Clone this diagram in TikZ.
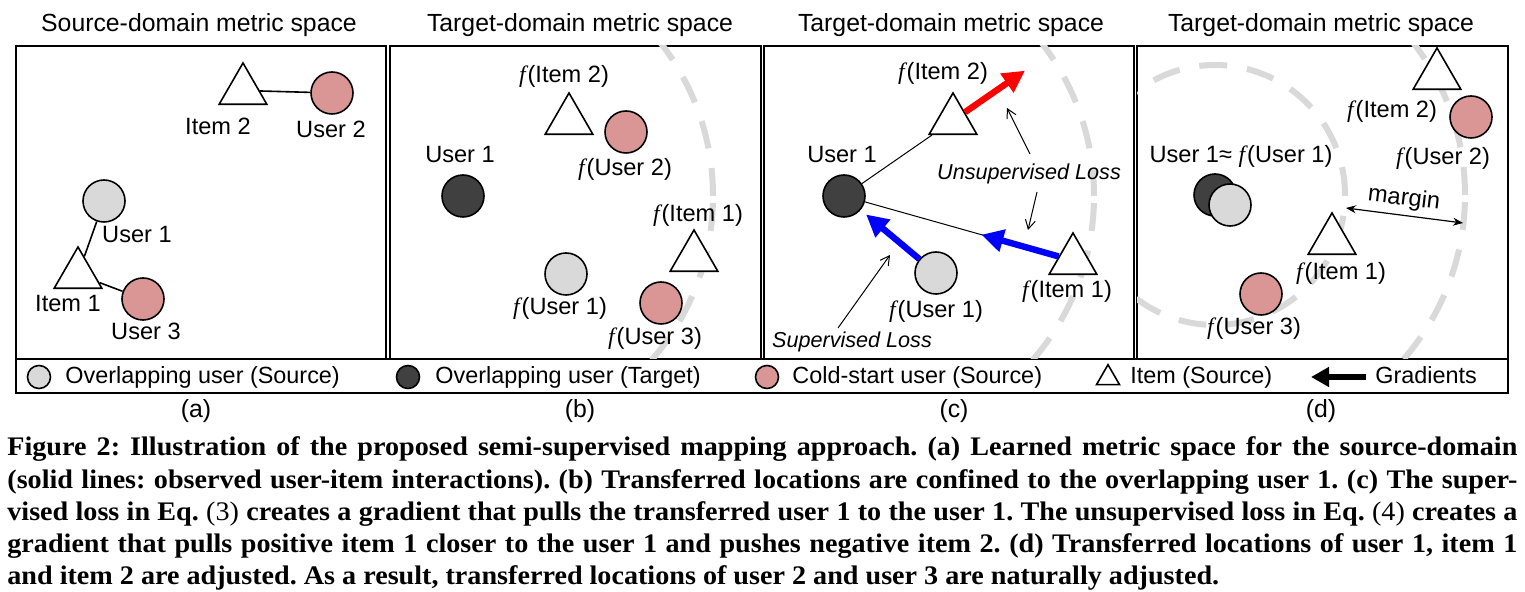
\documentclass[tikz,border=0pt]{standalone}
\usepackage{fontspec}
\setmainfont{Liberation Sans}
\newfontfamily\capfont[FakeStretch=1.05]{Liberation Serif}
\newfontfamily\mapfont{Liberation Serif}
\newcommand{\fmap}{{\mapfont\itshape f}\kern1pt}
\usetikzlibrary{shapes.geometric,arrows.meta,calc}

\begin{document}
\begin{tikzpicture}[x=0.5pt,y=-0.5pt,
  panel/.style={draw=black,line width=0.9pt},
  region/.style={draw=regionColor,line width=3pt,dash pattern=on 14pt off 10pt},
  usr/.style={circle,draw=black,line width=0.8pt,minimum size=21pt,inner sep=0pt},
  srcusr/.style={usr,fill=srcColor},
  tgtusr/.style={usr,fill=tgtColor},
  coldusr/.style={usr,fill=coldColor},
  itm/.style={regular polygon,regular polygon sides=3,draw=black,line width=0.8pt,minimum size=27.5pt,inner sep=0pt,fill=white},
  keyusr/.style={minimum size=11.5pt},
  keyitm/.style={itm,minimum size=13.3pt},
  lbl/.style={anchor=base,inner sep=0pt,font=\fontsize{11.8}{14}\selectfont},
  paneltitle/.style={anchor=base,inner sep=0pt,font=\fontsize{12.4}{14}\selectfont},
  note/.style={anchor=base,inner sep=0pt,font=\fontsize{10.8}{13}\selectfont\itshape},
  keytext/.style={anchor=base west,inner sep=0pt,font=\fontsize{11.7}{14}\selectfont},
  tie/.style={draw=black,line width=0.8pt},
  link/.style={draw=black,line width=0.5pt},
  hint/.style={draw=black,line width=0.5pt,-{Straight Barb[length=4.5pt,width=5pt]}},
  pull/.style={draw=blue,line width=3.2pt,-{Triangle[length=11pt,width=11pt]}},
  push/.style={draw=red,line width=3.2pt,-{Triangle[length=11pt,width=11pt]}},
  gradkey/.style={draw=black,line width=3pt,-{Triangle[length=9pt,width=9.5pt]}}
]
\definecolor{srcColor}{RGB}{217,217,217}
\definecolor{tgtColor}{RGB}{64,64,64}
\definecolor{coldColor}{RGB}{217,150,148}
\definecolor{regionColor}{RGB}{217,217,217}
\useasboundingbox[fill=white] (0,0) rectangle (1525,592);

% panel frames and titles
\path[panel] (16,46) rectangle (386,359);
\path[panel] (390,46) rectangle (761,359);
\path[panel] (764,46) rectangle (1134,359);
\path[panel] (1137,46) rectangle (1508,359);
\path[panel] (16,359) rectangle (1508,393);

\node[paneltitle] at (199,32) {Source-domain metric space};
\node[paneltitle] at (580,32) {Target-domain metric space};
\node[paneltitle] at (951,32) {Target-domain metric space};
\node[paneltitle] at (1321,32) {Target-domain metric space};

% (a) source domain
\node[itm] (a1item2) at (243,90.5) {};
\node[coldusr] (a1user2) at (332,93) {};
\node[srcusr] (a1user1) at (104,201) {};
\node[itm] (a1item1) at (78,274.5) {};
\node[coldusr] (a1user3) at (143,299) {};
\path[tie] (a1item2) -- (a1user2);
\path[tie] (a1user1) -- (a1item1);
\path[tie] (a1item1) -- (a1user3);
\node[lbl] at (218,135) {Item 2};
\node[lbl] at (331,138) {User 2};
\node[lbl] at (137,243) {User 1};
\node[lbl] at (68,312) {Item 1};
\node[lbl] at (146,340) {User 3};

% (b) transferred locations
\coordinate (b1c) at (463,196);
\begin{scope}
\clip (390,46) rectangle (761,359);
\path[region] (b1c) circle[radius=125pt];
\end{scope}
\node[tgtusr] (b1user) at (b1c) {};
\node[itm] (b1item2) at (569,120.5) {};
\node[coldusr] (b1user2) at (626,132) {};
\node[itm] (b1item1) at (694,257.5) {};
\node[srcusr] (b1fuser) at (566,274) {};
\node[coldusr] (b1user3) at (661,303) {};
\node[lbl] at (564,83) {\fmap(Item 2)};
\node[lbl] at (625,176) {\fmap(User 2)};
\node[lbl] at (460,163) {User 1};
\node[lbl] at (698,222) {\fmap(Item 1)};
\node[lbl] at (560,315) {\fmap(User 1)};
\node[lbl] at (655,345) {\fmap(User 3)};

% (c) supervised and unsupervised losses
\coordinate (c1c) at (844,196);
\begin{scope}
\clip (764,46) rectangle (1134,359);
\path[region] (c1c) circle[radius=125pt];
\end{scope}
\node[tgtusr] (c1user) at (c1c) {};
\node[itm] (c1item2) at (953,120.5) {};
\node[itm] (c1item1) at (1073,260.5) {};
\node[srcusr] (c1fuser) at (936,273) {};
\path[link] (c1user) -- (c1item2);
\path[link] (c1user) -- (c1item1);
\coordinate (c1pull) at ($(c1item1)!0.4!(c1user)$);
\coordinate (c1push) at ($(c1user)!1.66!(c1item2)$);
\path[pull] (c1item1) -- (c1pull);
\path[pull,shorten >=3.5pt] (c1fuser) -- (c1user);
\path[push] (c1item2) -- (c1push);
\node[lbl] at (943,80) {\fmap(Item 2)};
\node[lbl] at (842,163) {User 1};
\node[lbl] at (1067,298) {\fmap(Item 1)};
\node[lbl] at (936,318) {\fmap(User 1)};
\node[note] (c1unsup) at (1029,180) {Unsupervised Loss};
\node[note] (c1sup) at (852,348) {Supervised Loss};
\coordinate (c1hintA) at (1007,108);
\coordinate (c1hintB) at (1028,230);
\coordinate (c1hintC) at (890,255);
\path[hint] (1030,154) -- (c1hintA);
\path[hint] (1037,192) -- (c1hintB);
\path[hint] (838,328) -- (c1hintC);

% (d) adjusted locations
\coordinate (d1c) at (1215,195);
\begin{scope}
\clip (1137,46) rectangle (1508,359);
\path[region] (d1c) circle[radius=65pt];
\path[region] (d1c) circle[radius=125pt];
\end{scope}
\node[itm] (d1item2) at (1437,75.5) {};
\node[coldusr] (d1user2) at (1471,117) {};
\node[tgtusr] (d1user) at (d1c) {};
\node[srcusr] (d1fuser) at (1230,205) {};
\node[itm] (d1item1) at (1332,240.5) {};
\node[coldusr] (d1user3) at (1261,294) {};
\node[lbl] at (1392,118) {\fmap(Item 2)};
\node[lbl] at (1443,165) {\fmap(User 2)};
\node[lbl] at (1241,163) {User 1≈ \fmap(User 1)};
\node[lbl] at (1341,280) {\fmap(Item 1)};
\node[lbl] at (1254,335) {\fmap(User 3)};
\coordinate (d1mA) at (1346,208);
\coordinate (d1mB) at (1463,223);
\path[link,line width=0.6pt,{Stealth[length=5pt,width=4pt]}-{Stealth[length=5pt,width=4pt]}] (d1mA) -- (d1mB);
\node[lbl,anchor=center,rotate=-7] at (1404,199) {margin};

% legend
\node[srcusr,keyusr] (k1src) at (39,377) {};
\node[keytext] at (65,384) {Overlapping user (Source)};
\node[tgtusr,keyusr] (k1tgt) at (408,377) {};
\node[keytext] at (435,384) {Overlapping user (Target)};
\node[coldusr,keyusr] (k1cold) at (767,377) {};
\node[keytext] at (792,384) {Cold-start user (Source)};
\node[keyitm] (k1item) at (1108,378) {};
\node[keytext] at (1130,384) {Item (Source)};
\coordinate (k1gradA) at (1366,377);
\coordinate (k1gradB) at (1311,377);
\path[gradkey] (k1gradA) -- (k1gradB);
\node[keytext] at (1375,384) {Gradients};

% sub-figure labels
\node[paneltitle] at (196,418) {(a)};
\node[paneltitle] at (580,418) {(b)};
\node[paneltitle] at (954,418) {(c)};
\node[paneltitle] at (1321,418) {(d)};

% caption
\node[anchor=base west,inner sep=0pt,text width=755pt,align=justify,
  font=\capfont\bfseries\frenchspacing\fontsize{13.4}{16.1}\selectfont] (caption) at (7,456)
  {Figure 2: Illustration of the proposed semi-supervised mapping approach. (a) Learned metric space for the source-domain\linebreak
  (solid lines: observed user-item interactions). (b) Transferred locations are confined to the overlapping user 1. (c) The super-\linebreak
  vised loss in Eq. {\mdseries(3)} creates a gradient that pulls the transferred user 1 to the user 1. The unsupervised loss in Eq. {\mdseries(4)} creates a\linebreak
  gradient that pulls positive item 1 closer to the user 1 and pushes negative item 2. (d) Transferred locations of user 1, item 1\linebreak
  and item 2 are adjusted. As a result, transferred locations of user 2 and user 3 are naturally adjusted.};
\end{tikzpicture}
\end{document}
